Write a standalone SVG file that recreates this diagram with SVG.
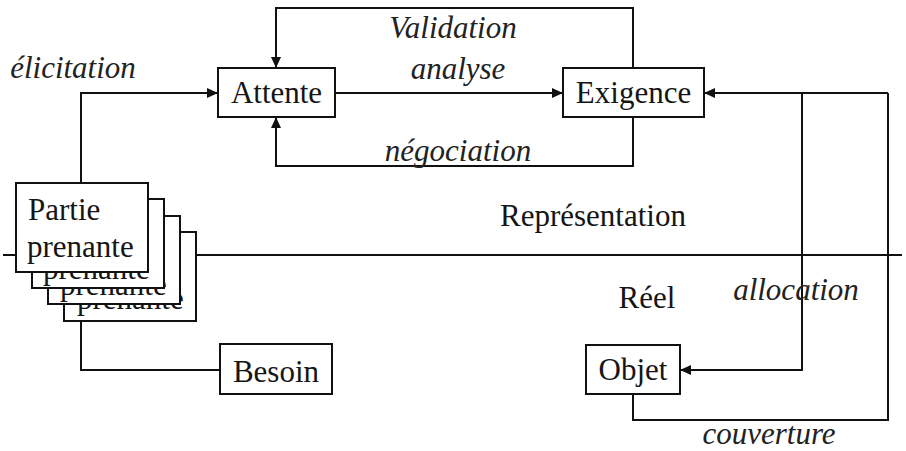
<svg xmlns="http://www.w3.org/2000/svg" width="906" height="451" viewBox="0 0 906 451">
<defs>
<style>
.box{fill:#fff;stroke:#111;stroke-width:2}
.ln{fill:none;stroke:#111;stroke-width:2}
.t{font-family:'Liberation Serif','Times New Roman','DejaVu Serif','Noto Serif',serif;font-size:31px;fill:#151515}
.i{font-family:'Liberation Serif','Times New Roman','DejaVu Serif','Noto Serif',serif;font-size:31px;font-style:italic;fill:#222}
.m{text-anchor:middle}
</style>
<marker id="ah" markerWidth="11" markerHeight="10" refX="11" refY="5" orient="auto" markerUnits="userSpaceOnUse">
<path d="M0,0 L11,5 L0,10 z" fill="#111"/>
</marker>
</defs>
<rect width="906" height="451" fill="#fff"/>
<g id="connectors">
<line class="ln" x1="3" y1="255" x2="902" y2="255"/>
<path class="ln" d="M633,68 V8 H276 V68" marker-end="url(#ah)"/>
<path class="ln" d="M633,117 V166 H276 V117" marker-end="url(#ah)"/>
<path class="ln" d="M335,93 H563" marker-end="url(#ah)"/>
<path class="ln" d="M81,183 V93 H218" marker-end="url(#ah)"/>
<path class="ln" d="M888,93 H704" marker-end="url(#ah)"/>
<path class="ln" d="M888,93 V420 H633 V394"/>
<path class="ln" d="M802,93 V370 H680" marker-end="url(#ah)"/>
<path class="ln" d="M81,321 V370 H220"/>
<text class="i m" x="453" y="38">Validation</text>
<text class="i m" x="458" y="79">analyse</text>
<text class="i m" x="458" y="161">négociation</text>
<text class="i m" x="73" y="78">élicitation</text>
<text class="i m" x="796" y="300">allocation</text>
<text class="i m" x="769" y="444">couverture</text>
</g>
<g id="partie-prenante">
<rect class="box" x="64" y="232" width="132" height="89"/>
<text class="t" x="77" y="309">prenante</text>
<rect class="box" x="48" y="216" width="132" height="88"/>
<text class="t" x="60" y="295">prenante</text>
<rect class="box" x="32" y="199" width="132" height="89"/>
<text class="t" x="43" y="279">prenante</text>
<rect class="box" x="16" y="183" width="132" height="89"/>
<text class="t" x="28" y="220">Partie</text><text class="t" x="27" y="257">prenante</text>
</g>
<g id="attente">
<rect class="box" x="218" y="68" width="117" height="49"/>
<text class="t m" x="276.5" y="103">Attente</text>
</g>
<g id="exigence">
<rect class="box" x="563" y="68" width="141" height="49"/>
<text class="t m" x="633.5" y="103">Exigence</text>
</g>
<g id="besoin">
<rect class="box" x="220" y="344" width="112" height="50"/>
<text class="t m" x="276" y="382">Besoin</text>
</g>
<g id="objet">
<rect class="box" x="586" y="345" width="94" height="49"/>
<text class="t m" x="633" y="380">Objet</text>
</g>
<g id="zones">
<text class="t m" x="593" y="226">Représentation</text>
<text class="t m" x="647" y="308">Réel</text>
</g>
</svg>
